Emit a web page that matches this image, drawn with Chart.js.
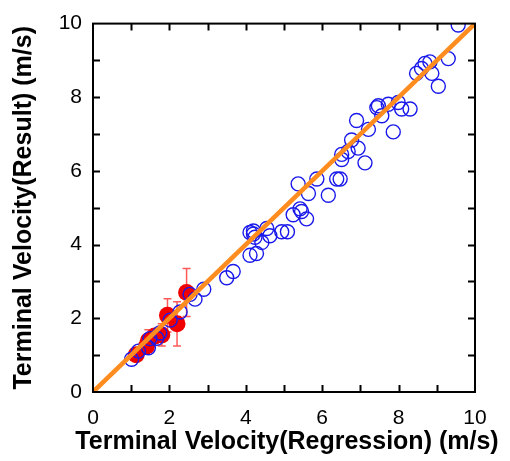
<!DOCTYPE html>
<html>
<head>
<meta charset="utf-8">
<script src="https://cdn.jsdelivr.net/npm/chart.js@4.4.1/dist/chart.umd.min.js"></script>
<style>
  body { margin: 0; background: #fff; }
</style>
</head>
<body>
<canvas id="velChart" width="510" height="461"></canvas>
<script>
// Open blue circles (regression vs result)
const blueX = [1.01, 1.19, 1.45, 1.49, 1.67, 1.75, 2.02, 2.28, 2.54, 2.67, 2.90, 3.50, 3.67,
    4.11, 4.28, 4.20, 4.20, 4.24, 4.42, 4.63, 4.55, 4.11, 4.94, 5.09, 5.24, 5.42, 5.46, 5.59,
    5.37, 5.64, 5.86, 6.16, 6.38, 6.47, 6.51, 6.51, 6.68, 6.77, 6.90, 6.94, 7.12, 7.21, 7.43,
    7.47, 7.56, 7.73, 7.86, 7.99, 8.08, 8.30, 8.47, 8.60, 8.69, 8.82, 8.87, 9.04, 9.30, 9.56];
const blueY = [0.89, 1.11, 1.20, 1.45, 1.46, 1.60, 1.95, 2.17, 2.65, 2.52, 2.79, 3.10, 3.27,
    3.71, 3.76, 4.29, 4.37, 4.20, 4.06, 4.24, 4.44, 4.33, 4.35, 4.35, 4.81, 4.97, 4.90, 4.70,
    5.65, 5.39, 5.78, 5.34, 5.78, 5.78, 6.31, 6.45, 6.53, 6.84, 7.37, 6.62, 6.22, 7.13, 7.72,
    7.77, 7.50, 7.81, 7.06, 7.86, 7.68, 7.68, 8.65, 8.78, 8.92, 8.96, 8.65, 8.30, 9.05, 9.96];

// Filled red circles with error bars
const redX = [1.13, 1.40, 1.45, 1.62, 1.80, 1.95, 2.20, 2.45];
const redY = [1.01, 1.24, 1.39, 1.52, 1.55, 2.08, 1.85, 2.70];
const redErr = [0.10, 0.15, 0.30, 0.20, 0.30, 0.45, 0.60, 0.65];

// y = x reference line
const lineX = [0, 10];
const lineY = [0, 10];

const xTitle = "Terminal Velocity(Regression) (m/s)";
const yTitle = "Terminal Velocity(Result) (m/s)";

const toPoints = (xs, ys) => xs.map((x, i) => ({ x: x, y: ys[i] }));

// Frame, inward ticks on all four sides, and the x title
// (drawn by hand so Chart.js doesn't squeeze it to the axis width)
const framePlugin = {
    id: "frame",
    afterDraw(chart) {
        const ctx = chart.ctx;
        const a = chart.chartArea;
        const sx = chart.scales.x;
        const sy = chart.scales.y;
        const len = 7;
        ctx.save();
        ctx.strokeStyle = "#000";
        ctx.lineWidth = 2;
        ctx.strokeRect(a.left, a.top, a.right - a.left, a.bottom - a.top);
        ctx.beginPath();
        for (let v = 1; v < 10; v++) {
            const px = Math.round(sx.getPixelForValue(v)) + 0.5;
            ctx.moveTo(px, a.bottom); ctx.lineTo(px, a.bottom - len);
            ctx.moveTo(px, a.top); ctx.lineTo(px, a.top + len);
            const py = Math.round(sy.getPixelForValue(v)) + 0.5;
            ctx.moveTo(a.left, py); ctx.lineTo(a.left + len, py);
            ctx.moveTo(a.right, py); ctx.lineTo(a.right - len, py);
        }
        ctx.stroke();

        ctx.fillStyle = "#000";
        ctx.font = "bold 25px 'Liberation Sans', Arial";
        ctx.textAlign = "center";
        ctx.textBaseline = "middle";
        ctx.fillText(xTitle, (a.left + a.right) / 2 + 3, 442);
        ctx.restore();
    },
};

// Error bars for the red points
const errorBarPlugin = {
    id: "errorBars",
    beforeDatasetsDraw(chart) {
        const ctx = chart.ctx;
        const sx = chart.scales.x;
        const sy = chart.scales.y;
        ctx.save();
        ctx.strokeStyle = "rgb(255,90,90)";
        ctx.lineWidth = 1.5;
        ctx.beginPath();
        redX.forEach((x, i) => {
            const px = sx.getPixelForValue(x);
            const top = sy.getPixelForValue(redY[i] + redErr[i]);
            const bot = sy.getPixelForValue(redY[i] - redErr[i]);
            ctx.moveTo(px, top); ctx.lineTo(px, bot);
            ctx.moveTo(px - 4, top); ctx.lineTo(px + 4, top);
            ctx.moveTo(px - 4, bot); ctx.lineTo(px + 4, bot);
        });
        ctx.stroke();
        ctx.restore();
    },
};

new Chart(document.getElementById("velChart"), {
    type: "scatter",
    data: {
        datasets: [
            {
                data: toPoints(redX, redY),
                backgroundColor: "rgb(240,0,0)",
                borderWidth: 0,
                pointRadius: 8.5,
                order: 3,
            },
            {
                data: toPoints(blueX, blueY),
                backgroundColor: "rgba(0,0,0,0)",
                borderColor: "rgb(25,25,235)",
                borderWidth: 1.4,
                pointRadius: 7,
                order: 2,
            },
            {
                type: "line",
                data: toPoints(lineX, lineY),
                borderColor: "rgb(255,140,30)",
                borderWidth: 4.5,
                pointRadius: 0,
                fill: false,
                order: 1,
            },
        ],
    },
    options: {
        responsive: false,
        animation: false,
        layout: { padding: { top: 14, right: 35, left: 0, bottom: 0 } },
        plugins: {
            legend: { display: false },
            tooltip: { enabled: false },
        },
        scales: {
            x: {
                type: "linear",
                min: 0,
                max: 10,
                grid: { display: false, drawTicks: false },
                border: { display: false },
                ticks: {
                    stepSize: 2,
                    padding: 14,
                    color: "#000",
                    font: { family: "Liberation Sans, Arial", size: 21 },
                },
                title: { display: false },
                afterFit(scale) { scale.height = 69; },
            },
            y: {
                type: "linear",
                min: 0,
                max: 10,
                grid: { display: false, drawTicks: false },
                border: { display: false },
                ticks: {
                    stepSize: 2,
                    padding: 11,
                    color: "#000",
                    font: { family: "Liberation Sans, Arial", size: 21 },
                },
                title: {
                    display: true,
                    text: yTitle,
                    color: "#000",
                    padding: { top: 9, bottom: 0 },
                    font: { family: "Liberation Sans, Arial", size: 25, weight: "bold" },
                },
                afterFit(scale) { scale.width = 93; },
            },
        },
    },
    plugins: [errorBarPlugin, framePlugin],
});
</script>
</body>
</html>
